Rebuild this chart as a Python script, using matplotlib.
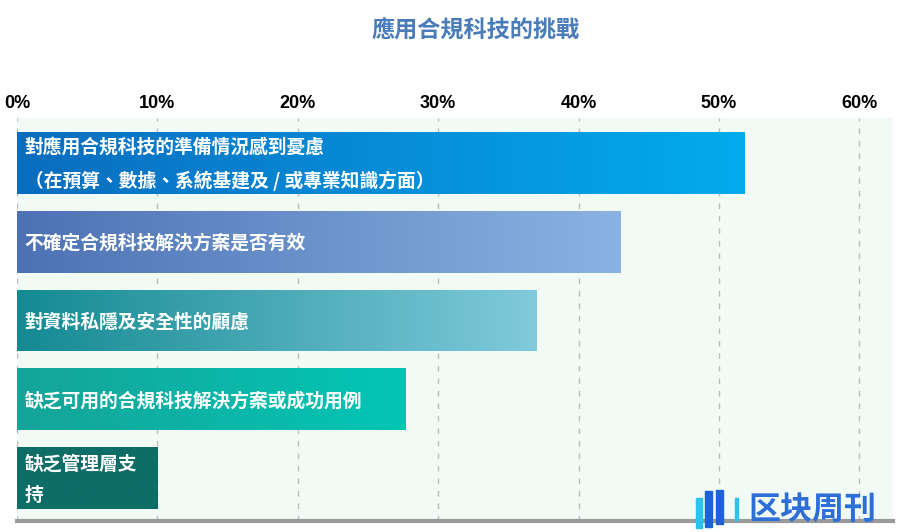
import numpy as np
import matplotlib
matplotlib.use("Agg")
import matplotlib.pyplot as plt
from matplotlib.colors import LinearSegmentedColormap
from matplotlib.patches import Rectangle

plt.rcParams['font.family'] = ['Noto Sans CJK TC', 'DejaVu Sans']

# ---- data ----
title = "應用合規科技的挑戰"
labels = [
    "對應用合規科技的準備情況感到憂慮\n（在預算、數據、系統基建及 / 或專業知識方面）",
    "不確定合規科技解決方案是否有效",
    "對資料私隱及安全性的顧慮",
    "缺乏可用的合規科技解決方案或成功用例",
    "缺乏管理層支\n持",
]
values = [51.8, 43, 37, 27.7, 10]
xticks = [0, 10, 20, 30, 40, 50, 60]
xtick_labels = ["0%", "10%", "20%", "30%", "40%", "50%", "60%"]
grad_left = ["#0a6dbf", "#4d72b4", "#148a92", "#15a499", "#0e6d67"]
grad_right = ["#03abef", "#8ab3e3", "#80cadb", "#03c6b5", "#0e6d67"]

fig = plt.figure(figsize=(9.13, 5.32), dpi=100)
fig.patch.set_facecolor("white")
ax = fig.add_axes([17/913, 11/532, 876/913, 403/532])
ax.set_facecolor("#f1faf5")

y = np.arange(len(values))
bars = ax.barh(y, values, height=0.785, color="none", zorder=3)
XL = (0, 62.4)
YL = (4.544, -0.57)
ax.set_xlim(*XL)
ax.set_ylim(*YL)

for b, cl, cr in zip(bars, grad_left, grad_right):
    cmap = LinearSegmentedColormap.from_list("g", [cl, cr])
    grad = np.linspace(0, 1, 256).reshape(1, -1)
    x0, y0 = b.get_x(), b.get_y()
    w, h = b.get_width(), b.get_height()
    im = ax.imshow(grad, cmap=cmap, aspect="auto", extent=(x0, x0 + w, y0 + h, y0),
                   interpolation="bicubic", zorder=3)
    im.set_clip_path(b)

ax.set_xlim(*XL)
ax.set_ylim(*YL)

for yi, lab in zip(y, labels):
    ax.text(0.55, yi + 0.02, lab, color="white", fontsize=13.5, fontweight="bold",
            va="center", ha="left", zorder=5, linespacing=1.85)

ax.set_xticks(xticks)
ax.set_xticklabels(xtick_labels, fontsize=13, fontweight="bold",
                   family=["Liberation Sans", "DejaVu Sans"])
ax.xaxis.tick_top()
ax.tick_params(axis="x", length=0, pad=4)
ax.set_yticks([])
ax.grid(axis="x", linestyle=(0, (4, 5)), color="#bdbdbd", linewidth=1, zorder=1)
ax.set_axisbelow(True)
for s in ["top", "left", "right"]:
    ax.spines[s].set_visible(False)
ax.spines["bottom"].set_color("#9a9a9a")
ax.spines["bottom"].set_linewidth(3)

fig.text(476/913, 1 - 30/532, title, ha="center", va="center", fontsize=16.7,
         fontweight="bold", color="#4a7cba")

# watermark logo
fig.text(812/913, 1 - 510/532, "区块周刊", ha="center", va="center", fontsize=23,
         fontweight="bold", color="#2d6fd6", family=["Noto Sans CJK SC", "DejaVu Sans"])
fig.patches.append(Rectangle((696/913, 1 - 528/532), 6/913, 30/532,
                             transform=fig.transFigure, color="#29c3ec", zorder=6))
fig.patches.append(Rectangle((705/913, 1 - 527/532), 7/913, 36/532,
                             transform=fig.transFigure, color="#1d62d6", zorder=6))
fig.patches.append(Rectangle((716/913, 1 - 524/532), 7/913, 34/532,
                             transform=fig.transFigure, color="#1d62d6", zorder=6))
fig.patches.append(Rectangle((735/913, 1 - 520/532), 3/913, 22/532,
                             transform=fig.transFigure, color="#29c3ec", zorder=6))

fig.savefig("out.png", dpi=100, facecolor="white")
